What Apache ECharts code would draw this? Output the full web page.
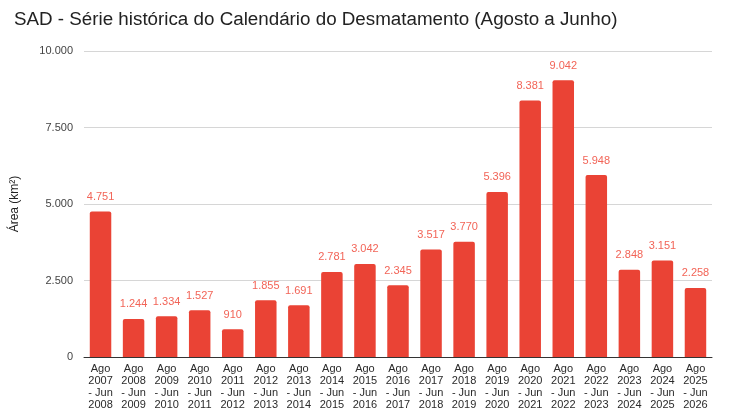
<!DOCTYPE html>
<html>
<head>
<meta charset="utf-8">
<script src="https://cdn.jsdelivr.net/npm/echarts@6/dist/echarts.min.js"></script>
<style>
  html, body { margin: 0; padding: 0; background: #fff; }
  #chart { width: 730px; height: 420px; }
</style>
</head>
<body>
<div id="chart"></div>
<script>
const categories = [
  'Ago\n2007\n- Jun\n2008', 'Ago\n2008\n- Jun\n2009', 'Ago\n2009\n- Jun\n2010',
  'Ago\n2010\n- Jun\n2011', 'Ago\n2011\n- Jun\n2012', 'Ago\n2012\n- Jun\n2013',
  'Ago\n2013\n- Jun\n2014', 'Ago\n2014\n- Jun\n2015', 'Ago\n2015\n- Jun\n2016',
  'Ago\n2016\n- Jun\n2017', 'Ago\n2017\n- Jun\n2018', 'Ago\n2018\n- Jun\n2019',
  'Ago\n2019\n- Jun\n2020', 'Ago\n2020\n- Jun\n2021', 'Ago\n2021\n- Jun\n2022',
  'Ago\n2022\n- Jun\n2023', 'Ago\n2023\n- Jun\n2024', 'Ago\n2024\n- Jun\n2025',
  'Ago\n2025\n- Jun\n2026'
]
const areaValues = [4751, 1244, 1334, 1527, 910, 1855, 1691, 2781, 3042, 2345, 3517, 3770, 5396, 8381, 9042, 5948, 2848, 3151, 2258]
const yTicks = [0, 2500, 5000, 7500, 10000]

const fmt = v => String(v).replace(/\B(?=(\d{3})+(?!\d))/g, '.')

const chart = echarts.init(document.getElementById('chart'))

chart.setOption({
  backgroundColor: '#fff',
  animation: false,
  textStyle: { fontFamily: 'Liberation Sans, Arial, sans-serif' },
  title: {
    text: 'SAD - Série histórica do Calendário do Desmatamento (Agosto a Junho)',
    left: 9,
    top: 5,
    textStyle: { fontSize: 18.8, fontWeight: 'normal', color: '#222', fontFamily: 'Liberation Sans, Arial, sans-serif' }
  },
  grid: { left: 84, right: 18, top: 51, bottom: 63 },
  xAxis: {
    type: 'category',
    data: categories,
    axisLine: { lineStyle: { color: '#333', width: 1 } },
    axisTick: { show: false },
    axisLabel: { interval: 0, color: '#2a2a2a', fontSize: 11, lineHeight: 12, margin: 6 }
  },
  yAxis: {
    type: 'value',
    min: yTicks[0],
    max: yTicks[yTicks.length - 1],
    interval: 2500,
    name: 'Área (km²)',
    nameLocation: 'middle',
    nameGap: 63,
    nameTextStyle: { color: '#222', fontSize: 12 },
    axisLine: { show: false },
    axisTick: { show: false },
    splitLine: { lineStyle: { color: '#d6d6d6' } },
    axisLabel: { color: '#444', fontSize: 11, margin: 11, formatter: v => fmt(v) }
  },
  series: [{
    type: 'bar',
    data: areaValues,
    barWidth: '65%',
    itemStyle: { color: '#ea4335', borderRadius: [2, 2, 0, 0] },
    label: {
      show: true,
      position: 'top',
      distance: 9,
      color: '#f26457',
      fontSize: 11,
      formatter: p => fmt(p.value)
    }
  }]
})
</script>
</body>
</html>
